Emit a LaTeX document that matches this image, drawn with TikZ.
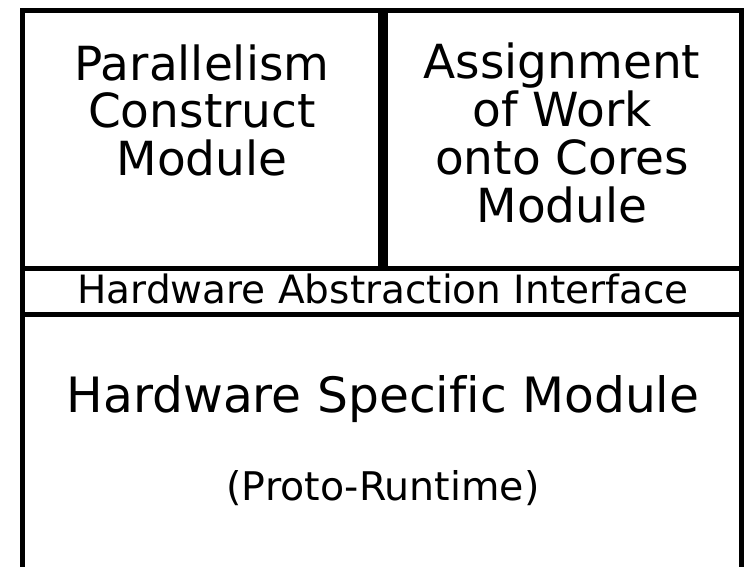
\documentclass[tikz,border=0pt]{standalone}
\usepackage{fontspec}
\setmainfont{DejaVu Sans}[Ligatures=NoCommon]
\begin{document}
\begin{tikzpicture}[x=1pt,y=-1pt,
    frame/.style={line width=5pt},
    modtext/.style={align=center,inner sep=0pt,anchor=base}]
    \useasboundingbox (0,0) rectangle (749,566);
    \clip (0,0) rectangle (749,566);

    % Module boxes
    \draw[frame] (22.5,10.5) rectangle (380,268);
    \draw[frame] (385,10.5) rectangle (741,268);

    % Interface band
    \draw[frame] (22.5,268) rectangle (741,314);

    % Hardware specific part, open at the bottom
    \draw[frame] (22.5,314) rectangle (741,600);

    % Texts (base = baseline of the last line)
    \node[modtext,font=\fontsize{47}{47.5}\selectfont] (parallel) at (202,175)
      {Parallelism\\Construct\\Module};
    \node[modtext,font=\fontsize{47}{48}\selectfont] (assign) at (562,222)
      {Assignment\\of Work\\onto Cores\\Module};
    \node[modtext,font=\fontsize{39}{39}\selectfont] (hai) at (383,303)
      {Hardware Abstraction Interface};
    \node[modtext,font=\fontsize{48.7}{48.7}\selectfont] (hsm) at (383,412)
      {Hardware Specific Module};
    \node[modtext,font=\fontsize{39.5}{39.5}\selectfont] (proto) at (383,500)
      {(Proto-Runtime)};
\end{tikzpicture}
\end{document}
